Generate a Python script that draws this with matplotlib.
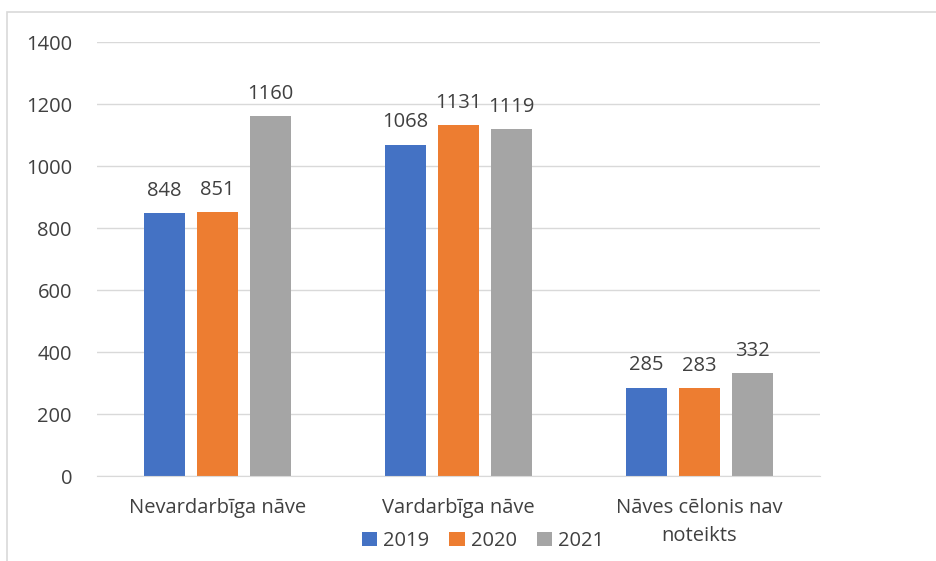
import matplotlib.pyplot as plt
import numpy as np
from matplotlib.patches import Rectangle

categories = ["Nevardarbīga nāve", "Vardarbīga nāve", "Nāves cēlonis nav\nnoteikts"]
years = ["2019", "2020", "2021"]
vals_2019 = [848, 1068, 285]
vals_2020 = [851, 1131, 283]
vals_2021 = [1160, 1119, 332]
colors = ["#4472C4", "#ED7D31", "#A5A5A5"]
txt = "#404040"

plt.rcParams['font.family'] = ['Open Sans', 'DejaVu Sans']

fig = plt.figure(figsize=(9.36, 5.61), dpi=100)
ax = fig.add_axes([97/936, 1 - 476/561, 723/936, 434/561])

x = np.arange(len(categories))
w = 0.174
pitch = 0.22
series = [vals_2019, vals_2020, vals_2021]
for i, (vals, c, yr) in enumerate(zip(series, colors, years)):
    bars = ax.bar(x + (i - 1) * pitch, vals, w, color=c, label=yr, zorder=2)
    for b, v in zip(bars, vals):
        ax.annotate(str(v), (b.get_x() + b.get_width() / 2, v), xytext=(0, 9),
                    textcoords='offset points', ha='center', va='bottom',
                    fontsize=14.5, color=txt)

ax.set_xlim(-0.5, 2.5)
ax.set_ylim(0, 1400)
ax.set_yticks(range(0, 1401, 200))
ax.grid(axis='y', color='#D9D9D9', linewidth=1, zorder=0)
for s in ['top', 'right', 'left']:
    ax.spines[s].set_visible(False)
ax.spines['bottom'].set_color('#D9D9D9')
ax.tick_params(axis='both', length=0, labelsize=14.5, labelcolor=txt)
ax.tick_params(axis='y', pad=18)
ax.tick_params(axis='x', pad=16)
ax.set_xticks(x)
ax.set_xticklabels(categories, va='top', linespacing=1.55)

fig.legend(loc='center', bbox_to_anchor=(483/936, 20/561), ncol=3, frameon=False,
           fontsize=14.5, handlelength=0.75, handleheight=0.75, handletextpad=0.3,
           columnspacing=1.0, labelcolor=txt)

fig.patches.append(Rectangle((7/936, -0.1), 1.2, 1.1 - 12/561, transform=fig.transFigure,
                             fill=False, edgecolor='#D9D9D9', linewidth=1.2))

fig.savefig("out.png", dpi=100)
